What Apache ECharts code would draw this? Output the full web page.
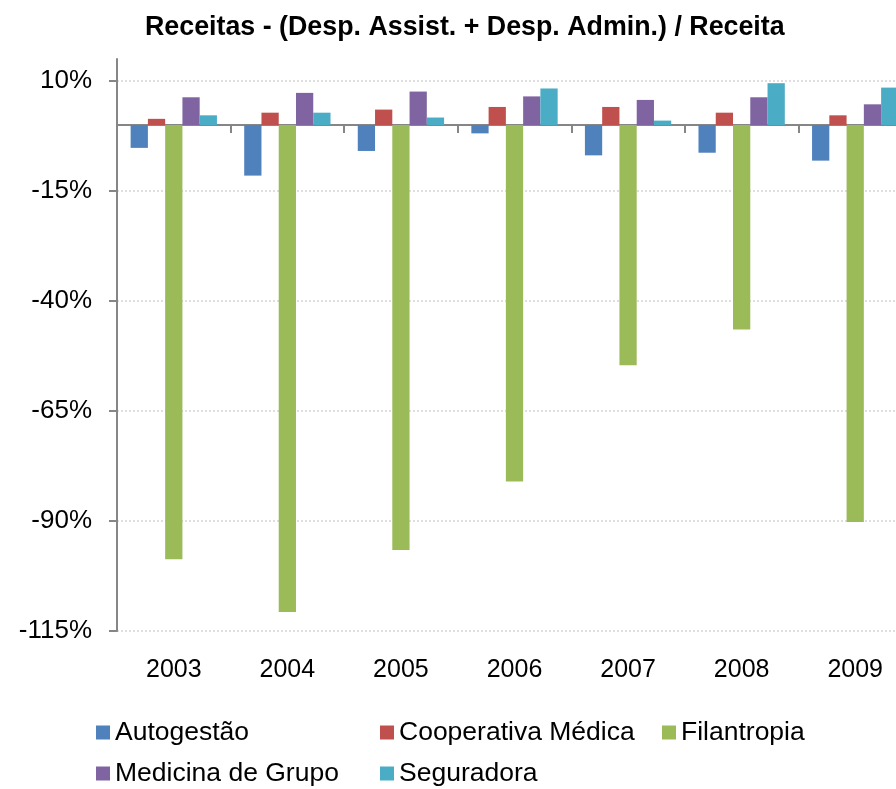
<!DOCTYPE html>
<html>
<head>
<meta charset="utf-8">
<script src="https://cdn.jsdelivr.net/npm/echarts@6/dist/echarts.min.js"></script>
<style>
  html, body { margin: 0; padding: 0; background: #fff; }
  #chart { width: 896px; height: 789px; }
</style>
</head>
<body>
<div id="chart"></div>
<script>
// dados (%)
var anos = ["2003", "2004", "2005", "2006", "2007", "2008", "2009"];
var autogestao = [-5.2, -11.5, -5.9, -1.9, -6.9, -6.3, -8.1];
var cooperativa = [1.4, 2.8, 3.5, 4.1, 4.1, 2.8, 2.2];
var filantropia = [-98.7, -110.7, -96.6, -81.0, -54.6, -46.5, -90.2];
var medicina = [6.3, 7.3, 7.6, 6.5, 5.7, 6.3, 4.7];
var seguradora = [2.2, 2.8, 1.7, 8.3, 1.0, 9.5, 8.5];
var yTicks = [-115, -90, -65, -40, -15, 10];

var nomes = ["Autogestão", "Cooperativa Médica", "Filantropia", "Medicina de Grupo", "Seguradora"];
var cores = ["#4F81BD", "#C0504D", "#9BBB59", "#8064A2", "#4BACC6"];
var valores = [autogestao, cooperativa, filantropia, medicina, seguradora];

var myChart = echarts.init(document.getElementById("chart"));
var fonte = "'Liberation Sans', Arial, sans-serif";

// posicao das legendas (duas linhas, colunas fixas)
var legPos = [
  { left: 96, top: 719 },
  { left: 380, top: 719 },
  { left: 662, top: 719 },
  { left: 96, top: 760 },
  { left: 380, top: 760 },
];

var series = nomes.map(function (n, i) {
  return {
    name: n,
    type: "bar",
    data: valores[i],
    barGap: "0%",
    barCategoryGap: "24%",
    itemStyle: { color: cores[i] },
  };
});

var option = {
  animation: false,
  title: {
    text: "Receitas - (Desp. Assist. + Desp. Admin.) / Receita",
    left: 145,
    top: 14,
    padding: 0,
    textStyle: { fontFamily: fonte, fontSize: 26.8, fontWeight: "bold", color: "#000" },
  },
  legend: nomes.map(function (n, i) {
    return {
      data: [n],
      left: legPos[i].left,
      top: legPos[i].top,
      padding: 0,
      itemWidth: 14,
      itemHeight: 14,
      itemGap: 0,
      icon: "rect",
      textStyle: { fontFamily: fonte, fontSize: 26.5, color: "#000" },
    };
  }),
  // a grade passa da borda direita, como no original
  grid: { left: 117, right: -16, top: 59, bottom: 158, outerBoundsMode: "none", containLabel: false },
  xAxis: [
    {
      type: "category",
      data: anos,
      axisLine: { onZero: true, lineStyle: { color: "#868686", width: 2 } },
      axisTick: { show: true, interval: 0, length: 8, lineStyle: { color: "#868686", width: 2 } },
      axisLabel: { show: false },
      splitLine: { show: false },
    },
    {
      type: "category",
      data: anos,
      position: "bottom",
      axisLine: { show: false, onZero: false },
      axisTick: { show: false },
      axisLabel: { fontFamily: fonte, fontSize: 25, color: "#000", margin: 27 },
    },
  ],
  yAxis: {
    type: "value",
    min: -115,
    max: 15,
    interval: 5,
    axisLine: { show: true, lineStyle: { color: "#868686", width: 2 } },
    axisTick: { show: true, length: 8, customValues: yTicks, lineStyle: { color: "#868686", width: 2 } },
    axisLabel: {
      customValues: yTicks,
      formatter: "{value}%",
      fontFamily: fonte,
      fontSize: 26,
      color: "#000",
      margin: 25,
    },
    splitLine: { show: true, lineStyle: { color: "#d4d4d4", type: [2, 2], width: 1.5 } },
  },
  series: series,
};

myChart.setOption(option);
</script>
</body>
</html>
